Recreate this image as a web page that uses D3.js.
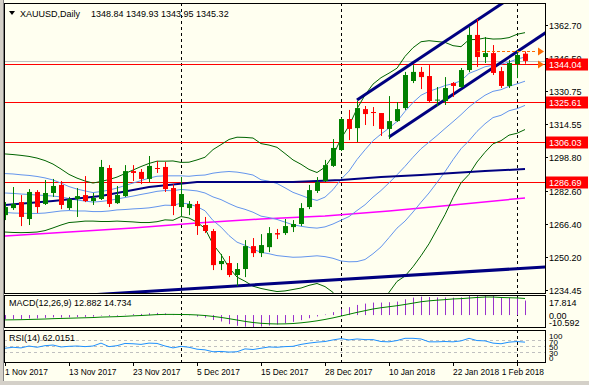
<!DOCTYPE html>
<html>
<head>
<meta charset="utf-8">
<title>XAUUSD Daily</title>
<script src="https://d3js.org/d3.v7.min.js"></script>
<style>
body { margin: 0; background: #d4d0c8; }
svg text { font-family: 'Liberation Sans', Arial, sans-serif; font-size: 9px; fill: #000; }
svg text.date { font-size: 8.4px; }
</style>
</head>
<body>
<script>
// ---- data ----
var opens  = [1270.7,1274.1,1277.0,1268.8,1281.9,1276.1,1281.4,1285.3,1274.1,1278.5,1280.4,1277.5,1278.5,1293.5,1276.5,1279.9,1292.0,1291.6,1288.2,1293.5,1294.0,1283.8,1274.6,1274.1,1276.1,1265.9,1263.0,1247.0,1247.5,1241.7,1244.6,1255.7,1252.3,1255.2,1262.0,1262.0,1264.9,1266.4,1274.6,1282.4,1287.2,1294.5,1302.2,1317.2,1312.8,1322.0,1320.6,1320.1,1312.4,1316.2,1322.5,1335.6,1340.0,1338.0,1326.2,1325.9,1334.6,1332.7,1340.9,1357.9,1347.2,1349.1,1340.4,1333.2,1343.8,1348.84];
var highs  = [1277.0,1284.3,1280.4,1283.3,1282.8,1287.7,1288.2,1287.2,1279.5,1283.8,1289.6,1281.4,1297.4,1294.9,1284.8,1294.9,1294.9,1293.0,1299.3,1296.9,1296.4,1285.7,1289.1,1277.5,1277.5,1269.8,1264.0,1251.9,1250.9,1247.5,1258.6,1259.6,1261.5,1264.9,1264.0,1268.8,1268.3,1276.5,1285.3,1289.1,1297.4,1307.5,1317.7,1321.6,1325.9,1323.5,1323.0,1320.1,1328.3,1325.4,1340.0,1343.3,1342.4,1343.3,1332.7,1337.5,1335.1,1341.9,1361.7,1365.6,1356.9,1353.0,1342.4,1345.8,1350.6,1349.93];
var lows   = [1268.3,1273.2,1265.4,1265.9,1271.7,1275.6,1279.5,1273.6,1273.2,1269.8,1277.0,1275.6,1278.0,1274.6,1276.1,1279.5,1287.2,1285.7,1286.7,1291.1,1281.9,1270.7,1270.3,1270.7,1261.1,1262.0,1244.1,1244.1,1240.7,1236.4,1240.7,1250.4,1250.4,1252.8,1259.1,1261.1,1262.5,1265.4,1273.6,1281.4,1286.7,1294.0,1301.7,1307.0,1306.1,1314.3,1313.8,1309.0,1307.5,1315.8,1321.6,1334.6,1331.7,1325.4,1323.5,1324.0,1327.9,1332.2,1339.9,1342.4,1344.3,1338.5,1332.2,1332.2,1337.0,1343.95];
var closes = [1274.6,1276.1,1269.8,1281.9,1274.6,1281.4,1284.8,1275.6,1278.5,1279.9,1277.5,1279.0,1294.0,1276.1,1280.4,1292.0,1291.1,1288.2,1294.5,1293.2,1283.3,1275.1,1280.9,1276.1,1265.4,1263.0,1246.5,1248.5,1241.7,1244.6,1255.7,1252.3,1256.2,1262.0,1261.3,1265.4,1266.4,1274.1,1282.8,1286.7,1294.9,1303.2,1317.2,1312.4,1322.5,1319.6,1320.1,1312.4,1316.2,1322.0,1338.5,1340.0,1337.5,1325.9,1326.6,1332.2,1333.2,1340.9,1357.9,1347.2,1349.1,1339.5,1333.2,1344.3,1348.2,1345.32];

// Bollinger bands (20): outer (2 dev, dark green) and inner (1 dev, light blue)
var bbUp2 = [1300.3,1300.0,1299.6,1299.1,1298.3,1297.1,1295.4,1293.0,1290.4,1288.6,1287.2,1286.2,1287.0,1287.9,1289.1,1290.8,1292.5,1294.2,1295.7,1296.8,1296.8,1296.9,1296.2,1296.3,1297.4,1298.7,1302.4,1304.8,1307.3,1308.4,1308.3,1308.0,1305.3,1304.6,1303.5,1300.5,1297.4,1295.3,1292.8,1291.3,1293.9,1299.5,1307.7,1313.9,1322.2,1328.8,1334.1,1337.2,1339.4,1341.8,1347.5,1351.7,1354.6,1355.1,1354.7,1354.3,1352.7,1352.2,1355.6,1355.7,1356.4,1355.9,1356.0,1356.6,1358.2,1359.0];
var bbUp1 = [1290.8,1290.6,1290.2,1289.9,1289.4,1288.7,1287.7,1286.2,1284.5,1283.3,1282.4,1281.6,1282.1,1282.8,1283.8,1285.0,1286.2,1287.4,1288.6,1289.5,1289.7,1289.7,1289.7,1289.5,1289.9,1290.1,1291.0,1291.5,1291.8,1291.5,1290.9,1290.1,1287.8,1287.1,1286.0,1283.9,1281.7,1280.3,1278.8,1277.8,1279.4,1283.0,1288.0,1292.0,1297.6,1302.3,1306.7,1309.9,1312.8,1316.0,1320.9,1325.2,1328.7,1330.6,1331.9,1333.4,1334.3,1335.7,1339.3,1340.8,1342.5,1343.2,1343.7,1344.8,1346.2,1347.2];
var bbMid = [1281.4,1281.2,1280.9,1280.7,1280.4,1280.2,1279.9,1279.5,1278.7,1278.0,1277.5,1277.0,1277.3,1277.8,1278.5,1279.2,1279.9,1280.7,1281.4,1282.2,1282.6,1282.5,1283.1,1282.8,1282.4,1281.4,1279.5,1278.2,1276.3,1274.6,1273.5,1272.1,1270.2,1269.5,1268.6,1267.3,1266.0,1265.3,1264.7,1264.4,1265.0,1266.4,1268.2,1270.0,1272.9,1275.7,1279.4,1282.6,1286.3,1290.2,1294.3,1298.7,1302.8,1306.0,1309.2,1312.6,1315.9,1319.3,1323.0,1326.0,1328.7,1330.6,1331.4,1333.0,1334.2,1335.5];
var bbLo1 = [1272.0,1271.7,1271.6,1271.5,1271.5,1271.7,1272.2,1272.7,1272.9,1272.7,1272.7,1272.4,1272.4,1272.7,1273.2,1273.4,1273.7,1273.9,1274.2,1274.8,1275.5,1275.4,1276.5,1276.1,1274.8,1272.8,1268.1,1264.9,1260.8,1257.6,1256.1,1254.2,1252.7,1252.0,1251.1,1250.7,1250.3,1250.4,1250.7,1251.0,1250.6,1249.8,1248.5,1248.1,1248.2,1249.2,1252.0,1255.3,1259.8,1264.4,1267.8,1272.2,1276.9,1281.4,1286.5,1291.7,1297.5,1302.8,1306.7,1311.2,1314.9,1317.9,1319.0,1321.2,1322.2,1323.8];
var bbLo2 = [1262.5,1262.3,1262.2,1262.3,1262.5,1263.2,1264.5,1265.9,1267.1,1267.4,1267.8,1267.8,1267.6,1267.6,1267.8,1267.6,1267.4,1267.1,1267.1,1267.5,1268.4,1268.2,1270.0,1269.3,1267.3,1264.2,1256.6,1251.6,1245.3,1240.7,1238.7,1236.3,1235.2,1234.4,1233.7,1234.0,1234.7,1235.4,1236.7,1237.6,1236.1,1233.3,1228.7,1226.2,1223.5,1222.6,1224.7,1228.0,1233.3,1238.6,1241.2,1245.7,1251.0,1256.8,1263.8,1270.9,1279.1,1286.3,1290.4,1296.4,1301.1,1305.2,1306.7,1309.4,1310.3,1312.1];

// moving averages, read at a few bars: [bar, price]
var maNavy    = [[0,1275.6],[6,1277.5],[12,1279.9],[18,1284.3],[24,1286.7],[30,1286.7],[36,1286.7],[42,1287.7],[47,1289.1],[52,1290.1],[56,1291.1],[60,1292.0],[65,1293.0]];
var maMagenta = [[0,1260.6],[8,1262.5],[16,1264.4],[24,1266.9],[32,1268.8],[40,1270.3],[48,1272.7],[56,1275.6],[65,1279.0]];

// trend lines: start bar, then two anchor points [bar, price]
var trendLines = [
  {from: 44, a: [44, 1326.4], b: [61, 1370.2]},
  {from: 48, a: [48, 1308.5], b: [61, 1342.0]},
  {from: -20, a: [20, 1234.3], b: [65, 1245.0]}
];
var levels = [1344.04, 1325.61, 1306.03, 1286.69];
var bid = 1345.32;
var orderLevels = [1349.93, 1344.04];

var priceTicks = [1362.70, 1346.50, 1330.75, 1314.55, 1298.80, 1282.60, 1266.40, 1250.20, 1234.45];
var dateLabels = ["1 Nov 2017", "13 Nov 2017", "23 Nov 2017", "5 Dec 2017", "15 Dec 2017", "28 Dec 2017", "10 Jan 2018", "22 Jan 2018", "1 Feb 2018"];
var dateBars = [0, 8, 16, 24, 32, 40, 48, 56, 64];
var separatorBars = [22, 42, 64];

var macdMain = [-3.6,-3.5,-3.6,-3.0,-3.0,-2.5,-2.0,-2.2,-2.0,-1.7,-1.6,-1.4,-0.4,-0.8,-0.6,0.3,0.8,1.0,1.6,1.9,1.5,0.6,0.3,-0.2,-1.3,-2.3,-4.4,-5.7,-8.0,-9.5,-10.3,-10.6,-10.2,-9.3,-8.4,-7.2,-6.0,-4.5,-2.8,-1.2,0.5,2.6,5.3,7.0,9.0,10.2,11.1,11.1,11.4,12.0,14.0,15.5,16.4,16.0,15.6,15.6,15.4,15.7,17.4,17.8,17.8,17.0,15.6,15.3,15.3,12.882];
var macdSignal = [-4.3,-4.2,-4.1,-3.9,-3.7,-3.5,-3.2,-3.0,-2.8,-2.6,-2.4,-2.2,-1.8,-1.6,-1.4,-1.1,-0.7,-0.4,0.0,0.4,0.6,0.6,0.5,0.4,0.1,-0.4,-1.2,-2.1,-3.2,-4.4,-5.6,-6.6,-7.3,-7.7,-7.9,-7.8,-7.5,-6.9,-6.1,-5.1,-3.9,-2.5,-0.9,0.7,2.4,3.9,5.4,6.5,7.4,8.3,9.4,10.6,11.8,12.6,13.2,13.7,14.3,14.6,15.1,15.6,16.0,16.0,15.6,15.4,15.2,14.734];
var rsi = [43,46,44,50,46,51,53,47,49,50,48,50,59,48,51,58,57,55,59,58,50,44,49,46,40,38,32,33,31,32,41,39,43,47,46,48,49,55,59,62,64,69,73,69,72,70,70,64,63,67,74,74,72,63,63,64,63,66,74,67,66,59,57,62,64,62.0151];
var rsiLevels = [70, 50, 30];
var rsiScale = [100, 70, 50, 30, 0];
var macdScale = ["17.814", "0.00", "-10.592"];

// ---- layout ----
var W = 589, H = 385;
var L = 4, R = 545;
var main = {top: 3, bottom: 293};
var pMacd = {top: 295, bottom: 327};
var pRsi = {top: 330, bottom: 362};

var svg = d3.select('body').append('svg').attr('width', W).attr('height', H);
svg.append('rect').attr('width', W).attr('height', H).attr('fill', '#d4d0c8');
svg.append('rect').attr('x', 4).attr('y', 0).attr('width', W - 4).attr('height', 381).attr('fill', '#fffff0');
svg.append('line').attr('x1', 3.5).attr('x2', 3.5).attr('y1', 0).attr('y2', 381).attr('stroke', '#808080');

var x = d3.scaleLinear().domain([0, 65]).range([5, 525]);
var y = d3.scaleLinear().domain([1233.0, 1373.35]).range([main.bottom, main.top]);
var ym = d3.scaleLinear().domain([-10.592, 17.814]).range([pMacd.bottom, pMacd.top]);
var yr = d3.scaleLinear().domain([0, 100]).range([pRsi.bottom, pRsi.top]);

var defs = svg.append('defs');
function clip(id, p) {
  defs.append('clipPath').attr('id', id).append('rect')
    .attr('x', L).attr('y', p.top).attr('width', R - L).attr('height', p.bottom - p.top);
}
clip('cMain', main); clip('cMacd', pMacd); clip('cRsi', pRsi);

var gMain = svg.append('g').attr('clip-path', 'url(#cMain)');
var gMacd = svg.append('g').attr('clip-path', 'url(#cMacd)');
var gRsi = svg.append('g').attr('clip-path', 'url(#cRsi)');

// period separators
[[gMain, main], [gMacd, pMacd], [gRsi, pRsi]].forEach(function(p) {
  p[0].selectAll('line.sep').data(separatorBars).enter().append('line')
    .attr('class', 'sep')
    .attr('x1', function(d) { return x(d) + 0.5; }).attr('x2', function(d) { return x(d) + 0.5; })
    .attr('y1', p[1].top).attr('y2', p[1].bottom)
    .attr('stroke', '#000').attr('stroke-dasharray', '3,3');
});

// horizontal levels
gMain.append('line').attr('x1', L).attr('x2', R).attr('y1', Math.round(y(bid)) + 0.5).attr('y2', Math.round(y(bid)) + 0.5)
  .attr('stroke', '#c0c0c0');
gMain.selectAll('line.lvl').data(levels).enter().append('line')
  .attr('x1', L).attr('x2', R)
  .attr('y1', function(d) { return Math.round(y(d)) + 0.5; }).attr('y2', function(d) { return Math.round(y(d)) + 0.5; })
  .attr('stroke', '#ff0000');

// lines from arrays
function seriesLine(g, arr, yscale, color, w) {
  var line = d3.line().x(function(d, i) { return x(i); }).y(function(d) { return yscale(d); });
  g.append('path').datum(arr).attr('d', line).attr('fill', 'none').attr('stroke', color).attr('stroke-width', w);
}
function pairLine(g, arr, color, w) {
  var line = d3.line().x(function(d) { return x(d[0]); }).y(function(d) { return y(d[1]); });
  g.append('path').datum(arr).attr('d', line).attr('fill', 'none').attr('stroke', color).attr('stroke-width', w);
}

pairLine(gMain, maMagenta, '#ff00ff', 1.5);
seriesLine(gMain, bbUp2, y, '#006400', 1);
seriesLine(gMain, bbLo2, y, '#006400', 1);
seriesLine(gMain, bbUp1, y, '#6495ed', 1);
seriesLine(gMain, bbMid, y, '#6495ed', 1);
seriesLine(gMain, bbLo1, y, '#6495ed', 1);
pairLine(gMain, maNavy, '#000080', 2);

// trend lines, run out to the right edge
trendLines.forEach(function(t) {
  var k = (t.b[1] - t.a[1]) / (t.b[0] - t.a[0]);
  var i1 = 75;
  gMain.append('line')
    .attr('x1', x(t.from)).attr('y1', y(t.a[1] + k * (t.from - t.a[0])))
    .attr('x2', x(i1)).attr('y2', y(t.a[1] + k * (i1 - t.a[0])))
    .attr('stroke', '#000080').attr('stroke-width', 3);
});

// candles
var bars = d3.range(opens.length);
var cg = gMain.selectAll('g.c').data(bars).enter().append('g');
cg.append('rect')
  .attr('x', function(i) { return x(i); }).attr('width', 1)
  .attr('y', function(i) { return y(highs[i]); })
  .attr('height', function(i) { return Math.max(1, y(lows[i]) - y(highs[i])); })
  .attr('fill', function(i) { return closes[i] >= opens[i] ? '#008000' : '#ff0000'; });
cg.append('rect')
  .attr('x', function(i) { return x(i) - 2; }).attr('width', 5)
  .attr('y', function(i) { return y(Math.max(opens[i], closes[i])); })
  .attr('height', function(i) { return Math.max(1, Math.abs(y(opens[i]) - y(closes[i]))); })
  .attr('fill', function(i) { return closes[i] >= opens[i] ? '#008000' : '#ff0000'; });

// order markers
gMain.append('line').attr('x1', x(59)).attr('x2', 537)
  .attr('y1', Math.round(y(orderLevels[0])) + 0.5).attr('y2', Math.round(y(orderLevels[0])) + 0.5)
  .attr('stroke', '#ff6a00').attr('stroke-dasharray', '3,2');
orderLevels.forEach(function(p) {
  var yy = Math.round(y(p)) + 0.5;
  svg.append('path').attr('d', 'M538,' + (yy - 4) + 'L544,' + yy + 'L538,' + (yy + 4) + 'Z').attr('fill', '#ff6a00');
});

// MACD
gMacd.selectAll('rect.h').data(macdMain).enter().append('rect')
  .attr('x', function(d, i) { return x(i); }).attr('width', 1)
  .attr('y', function(d) { return Math.min(ym(d), ym(0)); })
  .attr('height', function(d) { return Math.abs(ym(d) - ym(0)); })
  .attr('fill', '#9932cc');
seriesLine(gMacd, macdSignal, ym, '#008000', 1);

// RSI
rsiLevels.forEach(function(v) {
  gRsi.append('line').attr('x1', L).attr('x2', R).attr('y1', Math.round(yr(v)) + 0.5).attr('y2', Math.round(yr(v)) + 0.5)
    .attr('stroke', '#c0c0c0').attr('stroke-dasharray', '3,3');
});
seriesLine(gRsi, rsi, yr, '#1e90ff', 1);

// frames
[main, pMacd, pRsi].forEach(function(p) {
  svg.append('rect').attr('x', L + 0.5).attr('y', p.top + 0.5).attr('width', R - L).attr('height', p.bottom - p.top)
    .attr('fill', 'none').attr('stroke', '#000');
});

// price axis
priceTicks.forEach(function(p) {
  var yy = Math.round(y(p)) + 0.5;
  svg.append('line').attr('x1', R).attr('x2', R + 3).attr('y1', yy).attr('y2', yy).attr('stroke', '#000');
  svg.append('text').attr('x', 549).attr('y', yy + 3.5).text(p.toFixed(2));
});
levels.forEach(function(p) {
  var yy = Math.round(y(p)) + 0.5;
  svg.append('rect').attr('x', 546).attr('y', yy - 6).attr('width', 42).attr('height', 12).attr('fill', '#ff0000');
  svg.append('text').attr('x', 549).attr('y', yy + 3.5).style('fill', '#fff').text(p.toFixed(2));
});

// sub-window scales (stacked tight, as in the terminal)
[306, 318.5, 325.5].forEach(function(b, k) {
  svg.append('text').attr('x', 549).attr('y', b).text(macdScale[k]);
});
[339, 344.5, 350, 355.5, 361].forEach(function(b, k) {
  svg.append('text').attr('x', 549).attr('y', b).style('font-size', '8px').text(rsiScale[k]);
});

// date axis
dateBars.forEach(function(b, k) {
  var xx = x(b) + 0.5;
  svg.append('line').attr('x1', xx).attr('x2', xx).attr('y1', pRsi.bottom + 1).attr('y2', pRsi.bottom + 4).attr('stroke', '#000');
  var last = k === dateBars.length - 1;
  svg.append('text').attr('class', 'date').attr('x', last ? 544 : x(b)).attr('y', 375)
    .attr('text-anchor', last ? 'end' : 'start').text(dateLabels[k]);
});

// titles
svg.append('path').attr('d', 'M9,11L15,11L12,15Z').attr('fill', '#000');
svg.append('text').attr('x', 20).attr('y', 16.5).text('XAUUSD,Daily');
svg.append('text').attr('x', 91).attr('y', 16.5).text('1348.84 1349.93 1343.95 1345.32');
svg.append('text').attr('x', 9).attr('y', 306).text('MACD(12,26,9) 12.882 14.734');
svg.append('text').attr('x', 9).attr('y', 341).text('RSI(14) 62.0151');
</script>
</body>
</html>
